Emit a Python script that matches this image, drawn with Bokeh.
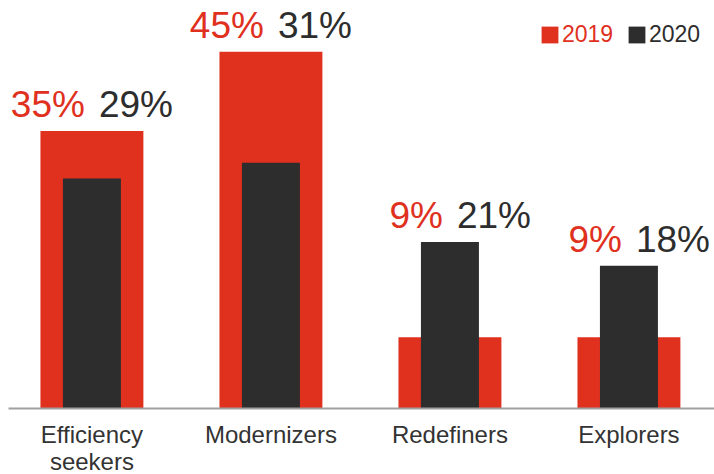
import numpy as np
from bokeh.plotting import figure
from bokeh.models import ColumnDataSource, Range1d, FixedTicker, Legend, LegendItem
from bokeh.core.properties import value
from bokeh.embed import file_html
from bokeh.resources import INLINE

categories = ["Efficiency\nseekers", "Modernizers", "Redefiners", "Explorers"]
v2019 = [35, 45, 9, 9]
v2020 = [29, 31, 21, 18]

RED = "#E0301E"
DARK = "#2D2D2D"
FONT = "Liberation Sans"

xs = np.arange(len(categories))
src = ColumnDataSource(dict(
    x=xs,
    y19=v2019,
    y20=v2020,
    ylab=np.maximum(v2019, v2020),
    t19=[f"{v}%" for v in v2019],
    t20=[f"{v}%" for v in v2020],
))

p = figure(frame_width=706, frame_height=400, output_backend="svg", toolbar_location=None,
           x_range=Range1d(-0.466, 3.478), y_range=Range1d(0, 50.44), min_border=0,
           min_border_left=8, min_border_top=8)
p.outline_line_color = None
p.grid.visible = False
p.yaxis.visible = False

r19 = p.vbar(x="x", top="y19", width=0.575, source=src, fill_color=RED, line_color=None)
r20 = p.vbar(x="x", top="y20", width=0.324, source=src, fill_color=DARK, line_color=None)

p.text(x="x", y="ylab", text="t19", source=src, text_align="right", text_baseline="alphabetic",
       x_offset=-7, y_offset=-26, text_font_size="37px", text_color=RED, text_font=value(FONT))
p.text(x="x", y="ylab", text="t20", source=src, text_align="left", text_baseline="alphabetic",
       x_offset=7, y_offset=-26, text_font_size="37px", text_color=DARK, text_font=value(FONT))

ax = p.xaxis[0]
ax.ticker = FixedTicker(ticks=list(xs))
ax.major_label_overrides = {int(i): c for i, c in zip(xs, categories)}
ax.major_tick_line_color = None
ax.major_tick_out = 0
ax.major_tick_in = 0
ax.minor_tick_line_color = None
ax.axis_line_color = "#A0A0A0"
ax.axis_line_width = 2
ax.major_label_text_font = FONT
ax.major_label_text_font_size = "24px"
ax.major_label_text_color = "#333333"
ax.major_label_text_line_height = 1.0
ax.major_label_standoff = 12

def mk_legend(label, rend, color, loc):
    lg = Legend(items=[LegendItem(label=label, renderers=[rend])], location=loc,
                orientation="horizontal", padding=0, margin=0, spacing=0,
                glyph_width=21, glyph_height=21, label_standoff=2, label_height=21,
                label_text_font=FONT, label_text_font_size="23px", label_text_color=color,
                border_line_color=None, background_fill_alpha=0)
    p.add_layout(lg)

mk_legend("2019", r19, RED, (531, 360))
mk_legend("2020", r20, DARK, (618, 360))

open("out.html", "w").write(file_html(p, INLINE))
